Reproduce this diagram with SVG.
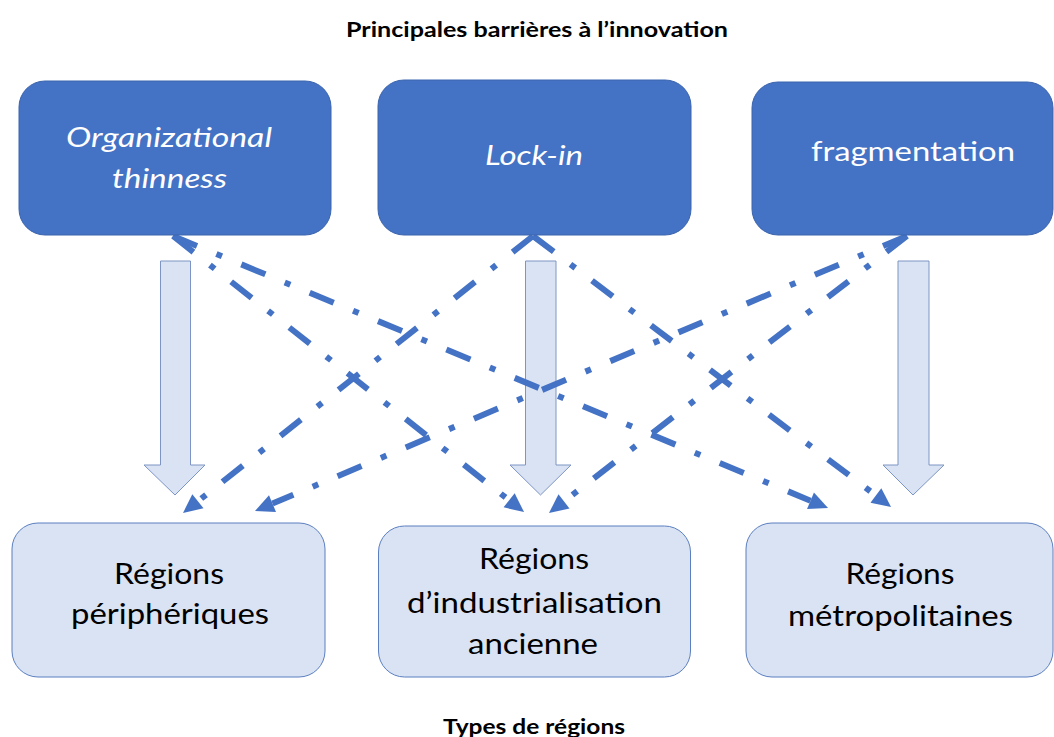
<svg xmlns="http://www.w3.org/2000/svg" width="1054" height="737" viewBox="0 0 1054 737">
<style>
.top{fill:#4472C4;stroke:#3B64AE;stroke-width:1}
.bot{fill:#DAE3F3;stroke:#5B7FC0;stroke-width:1}
.blk{fill:#DAE3F3;stroke:#7D95C4;stroke-width:1}
.dd{fill:none;stroke:#4472C4;stroke-width:6;stroke-dasharray:26 21 6 21;marker-end:url(#ah)}
.tw{font-family:Lato,"Open Sans","Liberation Sans",sans-serif;font-size:27px;fill:#FFFFFF;text-anchor:middle}
.tb{font-family:Lato,"Open Sans","Liberation Sans",sans-serif;font-size:29px;fill:#000000;text-anchor:middle}
.ttl{font-family:Lato,"Open Sans","Liberation Sans",sans-serif;font-size:21px;font-weight:bold;fill:#000000;text-anchor:middle}
.it{font-style:italic}
</style>
<defs>
<marker id="ah" markerUnits="userSpaceOnUse" markerWidth="20" markerHeight="20" viewBox="0 -10 20 20" refX="0" refY="0" orient="auto" overflow="visible">
<path d="M0,-9 L19,0 L0,9 z" fill="#4472C4"/>
</marker>
</defs>
<rect width="1054" height="737" fill="#FFFFFF"/>
<text class="ttl" x="537" y="37" textLength="382" lengthAdjust="spacingAndGlyphs">Principales barrières à l’innovation</text>
<text class="ttl" x="534" y="734" textLength="182" lengthAdjust="spacingAndGlyphs">Types de régions</text>

<g id="connectors">
<polygon class="blk" points="160.5,261 190.5,261 190.5,465 205,465 175,495 144,465 160.5,465"/>
<polygon class="blk" points="525.5,261 556,261 556,465 571,465 540.5,495 510,465 525.5,465"/>
<polygon class="blk" points="898,261 929,261 929,465 944,465 913,495 883,465 898,465"/>
<path class="dd" d="M173,236 L509.1,500.3"/>
<path class="dd" d="M173,236 L810.5,500.7"/>
<path class="dd" d="M533,236 L197.9,501.2"/>
<path class="dd" d="M533,236 L875.9,495.5"/>
<path class="dd" d="M907,236 L272.5,503.6"/>
<path class="dd" d="M907,236 L564,501.4"/>
</g>

<g id="node-organizational-thinness">
<rect class="top" x="19" y="81" width="312" height="154" rx="26"/>
<text class="tw it" x="169" y="147" textLength="206" lengthAdjust="spacingAndGlyphs">Organizational</text>
<text class="tw it" x="169.5" y="188" textLength="115" lengthAdjust="spacingAndGlyphs">thinness</text>
</g>
<g id="node-lock-in">
<rect class="top" x="378" y="80" width="313" height="155" rx="26"/>
<text class="tw it" x="534" y="165" textLength="98" lengthAdjust="spacingAndGlyphs">Lock-in</text>
</g>
<g id="node-fragmentation">
<rect class="top" x="752" y="82" width="301" height="153" rx="26"/>
<text class="tw" x="913" y="161" textLength="204" lengthAdjust="spacingAndGlyphs">fragmentation</text>
</g>

<g id="node-regions-peripheriques">
<rect class="bot" x="12" y="523" width="313" height="154" rx="26"/>
<text class="tb" x="169" y="584" textLength="110" lengthAdjust="spacingAndGlyphs">Régions</text>
<text class="tb" x="170" y="624" textLength="198" lengthAdjust="spacingAndGlyphs">périphériques</text>
</g>
<g id="node-regions-industrialisation">
<rect class="bot" x="378.5" y="526" width="312" height="151" rx="26"/>
<text class="tb" x="534" y="569" textLength="110" lengthAdjust="spacingAndGlyphs">Régions</text>
<text class="tb" x="534.5" y="613" textLength="255" lengthAdjust="spacingAndGlyphs">d’industrialisation</text>
<text class="tb" x="533" y="654" textLength="130" lengthAdjust="spacingAndGlyphs">ancienne</text>
</g>
<g id="node-regions-metropolitaines">
<rect class="bot" x="746" y="523" width="307" height="154" rx="26"/>
<text class="tb" x="900" y="584" textLength="109" lengthAdjust="spacingAndGlyphs">Régions</text>
<text class="tb" x="900.5" y="626" textLength="225" lengthAdjust="spacingAndGlyphs">métropolitaines</text>
</g>
</svg>
